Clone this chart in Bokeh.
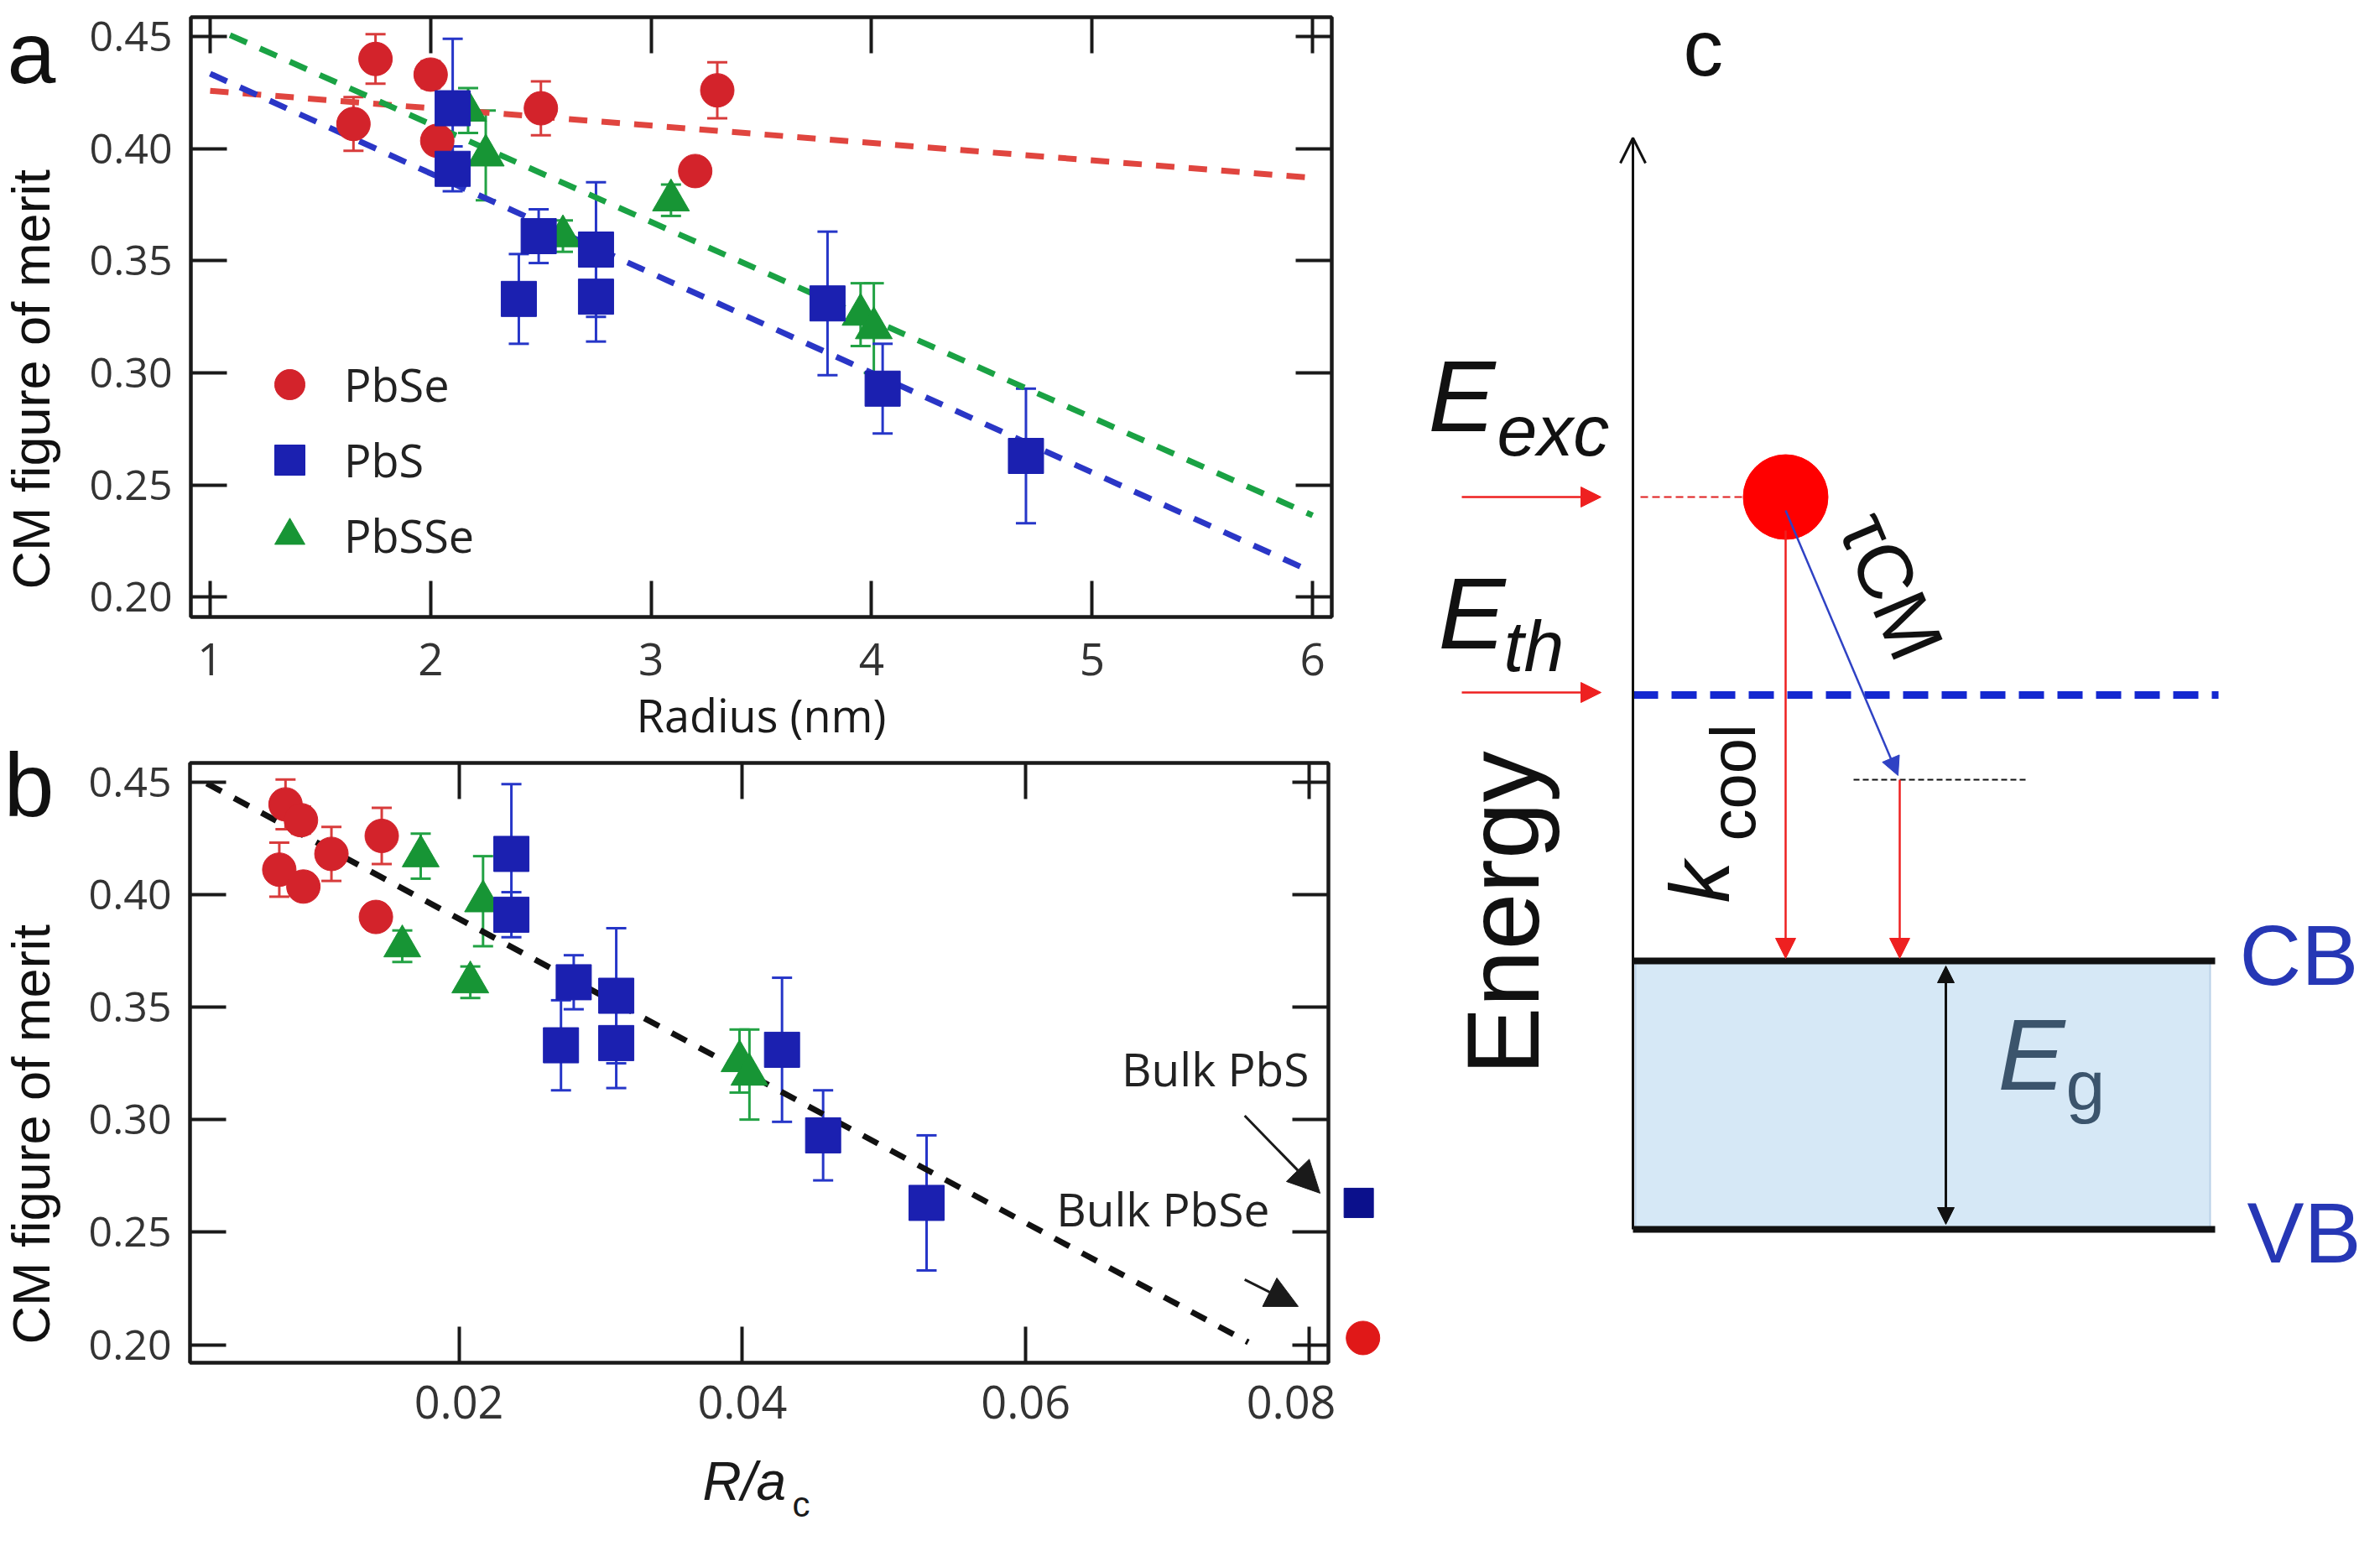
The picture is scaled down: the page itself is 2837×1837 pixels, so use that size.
import math
from bokeh.plotting import figure
from bokeh.models import (ColumnDataSource, Range1d, LinearAxis, FixedTicker, PrintfTickFormatter,
                          CustomJSTickFormatter, Whisker, TeeHead, Legend, LegendItem, Label,
                          Arrow, NormalHead, OpenHead)
from bokeh.layouts import row, column
from bokeh.embed import file_html
from bokeh.resources import INLINE

# ---------------- data ----------------
pbse_radius = [1.65, 1.75, 2.00, 2.03, 2.50, 3.30, 3.20]
pbse_ratio = [0.00732, 0.00776, 0.00885, 0.00902, 0.0110, 0.01455, 0.01414]
pbse_cm = [0.411, 0.440, 0.433, 0.4035, 0.418, 0.426, 0.390]
pbse_err = [0.012, 0.011, 0.006, 0.005, 0.012, 0.0125, 0.005]

pbs_radius = [2.10, 2.10, 2.40, 2.49, 2.75, 2.75, 3.80, 4.05, 4.70]
pbs_ratio = [0.0237, 0.0237, 0.0272, 0.0281, 0.0311, 0.0311, 0.0428, 0.0457, 0.0530]
pbs_cm = [0.418, 0.391, 0.333, 0.361, 0.355, 0.334, 0.331, 0.293, 0.263]
pbs_err = [0.031, 0.010, 0.020, 0.012, 0.030, 0.020, 0.032, 0.020, 0.030]

pbsse_radius = [2.17, 2.25, 2.60, 3.09, 3.95, 4.01]
pbsse_ratio = [0.0173, 0.0217, 0.0208, 0.0160, 0.0398, 0.0405]
pbsse_cm = [0.417, 0.397, 0.361, 0.377, 0.326, 0.320]
pbsse_err = [0.010, 0.020, 0.007, 0.007, 0.014, 0.020]

fit_radius = [1.0, 6.0]
fit_pbse = [0.4258, 0.3870]
fit_pbs = [0.4334, 0.2112]
fit_pbsse_radius = [1.09, 6.0]
fit_pbsse = [0.4506, 0.2365]

fit_ratio = [0.0022, 0.0757]
fit_all = [0.4493, 0.2011]

bulk_labels = ["Bulk PbS", "Bulk PbSe"]
bulk_ratio = [0.0835, 0.0838]
bulk_cm = [0.263, 0.203]

radius_ticks = [1, 2, 3, 4, 5, 6]
ratio_ticks = [0.02, 0.04, 0.06, 0.08]
cm_ticks = [0.20, 0.25, 0.30, 0.35, 0.40, 0.45]

# ---------------- style ----------------
RED, BLUE, GREEN = "#d3232b", "#1b20b0", "#179535"
RED_E, BLUE_E, GREEN_E = "#d83c3c", "#2636c8", "#22a244"
RED_L, BLUE_L, GREEN_L = "#e0453f", "#2a36c6", "#1aa244"
FRAME = "#1a1a1a"
TICKC = "#333333"
BLANK = CustomJSTickFormatter(code="return ''")


def base_axes(p, xticks, xfmt, xtick_size, xtick_standoff, xlabel=None, xlab_standoff=0):
    p.grid.visible = False
    p.outline_line_color = FRAME
    p.outline_line_width = 4
    for ax in (p.xaxis[0], p.yaxis[0]):
        ax.axis_line_width = 4
        ax.axis_line_color = FRAME
        ax.major_tick_line_width = 4
        ax.major_tick_line_color = FRAME
        ax.major_tick_in = 43
        ax.major_tick_out = 0
        ax.minor_tick_in = 0
        ax.minor_tick_out = 0
        ax.major_label_text_font = "Open Sans"
        ax.major_label_text_color = TICKC
    xa = p.xaxis[0]
    xa.ticker = FixedTicker(ticks=xticks)
    xa.formatter = PrintfTickFormatter(format=xfmt)
    xa.major_label_text_font_size = xtick_size
    xa.major_label_standoff = xtick_standoff
    if xlabel:
        xa.axis_label = xlabel
        xa.axis_label_text_font = "Open Sans"
        xa.axis_label_text_font_style = "normal"
        xa.axis_label_text_font_size = "54px"
        xa.axis_label_text_color = "#1a1a1a"
        xa.axis_label_standoff = xlab_standoff
    ya = p.yaxis[0]
    ya.ticker = FixedTicker(ticks=cm_ticks)
    ya.formatter = PrintfTickFormatter(format="%.2f")
    ya.major_label_text_font_size = "50px"
    ya.major_label_standoff = 22
    for side, ticks in (("above", xticks), ("right", cm_ticks)):
        ax = LinearAxis(ticker=FixedTicker(ticks=ticks), formatter=BLANK,
                        major_label_text_font_size="2px",
                        major_label_standoff=0, major_tick_in=43, major_tick_out=0,
                        minor_tick_in=0, minor_tick_out=0, axis_line_width=4,
                        axis_line_color=FRAME, major_tick_line_width=4,
                        major_tick_line_color=FRAME)
        p.add_layout(ax, side)


def series(p, xs, ys, errs, color, ecolor, marker, size):
    lower = [y - e for y, e in zip(ys, errs)]
    upper = [y + e for y, e in zip(ys, errs)]
    src = ColumnDataSource(dict(x=xs, y=ys, lower=lower, upper=upper))
    w = Whisker(base="x", lower="lower", upper="upper", source=src, dimension="height",
                line_color=ecolor, line_width=3,
                upper_head=TeeHead(size=24, line_color=ecolor, line_width=3),
                lower_head=TeeHead(size=24, line_color=ecolor, line_width=3))
    p.add_layout(w)
    return p.scatter("x", "y", source=src, marker=marker, size=size,
                     fill_color=color, line_color=color, line_width=1)


def canvas(x0, y0, w, h):
    """A bare figure whose data units are page pixels (y down)."""
    c = figure(width=w, height=h, output_backend="svg", toolbar_location=None,
               x_range=Range1d(x0, x0 + w), y_range=Range1d(y0 + h, y0),
               x_axis_location=None, y_axis_location=None,
               min_border_left=0, min_border_right=0, min_border_top=0, min_border_bottom=0,
               background_fill_color="white", border_fill_color="white")
    c.grid.visible = False
    c.outline_line_color = None
    return c


def lab(p, x, y, text, size, font="Liberation Sans", style="normal", color="#111111",
        angle=0.0, align="left", baseline="alphabetic"):
    p.add_layout(Label(x=x, y=y, text=text, text_font=font, text_font_size=size,
                       text_font_style=style, text_color=color, angle=angle,
                       text_align=align, text_baseline=baseline))


# ---------------- left strip: panel letters and y titles ----------------
strip_left = canvas(8, 8, 80, 1724)
lab(strip_left, 16, 70, "a", "104px")
lab(strip_left, 12, 943, "b", "108px")
lab(strip_left, 44, 710, "CM figure of merit", "63px", angle=math.pi / 2)
lab(strip_left, 44, 1610, "CM figure of merit", "63px", angle=math.pi / 2)

# ---------------- panel a ----------------
pa = figure(width=1520, height=896, output_backend="svg", toolbar_location=None,
            x_range=Range1d(0.9125, 6.087), y_range=Range1d(0.1912, 0.4586),
            min_border_left=147, min_border_right=13, min_border_top=20, min_border_bottom=161,
            background_fill_color="white", border_fill_color="white")
base_axes(pa, radius_ticks, "%d", "53px", 31, "Radius (nm)", 7)

pa.line(fit_radius, fit_pbse, line_color=RED_L, line_width=7, line_dash="22 17")
pa.line(fit_radius, fit_pbs, line_color=BLUE_L, line_width=7, line_dash="22 17")
pa.line(fit_pbsse_radius, fit_pbsse, line_color=GREEN_L, line_width=7, line_dash="22 17")

r_se = series(pa, pbse_radius, pbse_cm, pbse_err, RED, RED_E, "circle", 40)
r_sse = series(pa, pbsse_radius, pbsse_cm, pbsse_err, GREEN, GREEN_E, "triangle", 44)
r_s = series(pa, pbs_radius, pbs_cm, pbs_err, BLUE, BLUE_E, "square", 42)

leg = Legend(items=[LegendItem(label="PbSe", renderers=[r_se]),
                    LegendItem(label="PbS", renderers=[r_s]),
                    LegendItem(label="PbSSe", renderers=[r_sse])],
             location=(73, 52), orientation="vertical", glyph_width=90, glyph_height=90,
             label_standoff=20, spacing=0, padding=0, margin=0,
             border_line_color=None, background_fill_alpha=0,
             label_text_font="Open Sans", label_text_font_size="54px", label_text_color="#222222")
pa.add_layout(leg, "center")

# ---------------- panel b ----------------
XB0, XB1 = 0.00102, 0.08136
pb = figure(width=1512, height=828, output_backend="svg", toolbar_location=None,
            x_range=Range1d(XB0, XB1), y_range=Range1d(0.192, 0.4584),
            min_border_left=146, min_border_right=9, min_border_top=13, min_border_bottom=100,
            background_fill_color="white", border_fill_color="white")
base_axes(pb, ratio_ticks, "%.2f", "54px", 27)

pb.line(fit_ratio, fit_all, line_color="#111111", line_width=7, line_dash="20 17")
series(pb, pbse_ratio, pbse_cm, pbse_err, RED, RED_E, "circle", 40)
series(pb, pbsse_ratio, pbsse_cm, pbsse_err, GREEN, GREEN_E, "triangle", 44)
series(pb, pbs_ratio, pbs_cm, pbs_err, BLUE, BLUE_E, "square", 42)

for txt, xx, yy in ((bulk_labels[0], 0.06677, 0.3226), (bulk_labels[1], 0.06216, 0.2607)):
    lab(pb, xx, yy, txt, "55px", font="Open Sans", color="#222222")
for xs, ys, xe, ye in ((0.07545, 0.3017, 0.08077, 0.2673), (0.07545, 0.2289, 0.07923, 0.2170)):
    pb.add_layout(Arrow(x_start=xs, y_start=ys, x_end=xe, y_end=ye,
                        line_width=3, line_color="#1a1a1a",
                        end=NormalHead(size=38, fill_color="#1a1a1a", line_color="#1a1a1a")))

# bulk values sit just outside panel b's frame: continue its x scale in a narrow strip
ppu = (1512 - 146 - 9) / (XB1 - XB0)
bx0 = XB1 + 9 / ppu
pbulk = figure(width=60, height=828, output_backend="svg", toolbar_location=None,
               x_range=Range1d(bx0, bx0 + 60 / ppu), y_range=pb.y_range,
               x_axis_location=None, y_axis_location=None,
               min_border_left=0, min_border_right=0, min_border_top=13, min_border_bottom=100,
               background_fill_color="white", border_fill_color="white")
pbulk.grid.visible = False
pbulk.outline_line_color = None
pbulk.scatter([bulk_ratio[0]], [bulk_cm[0]], marker="square", size=35,
              fill_color="#0b108c", line_color="#0b108c")
pbulk.scatter([bulk_ratio[1]], [bulk_cm[1]], marker="circle", size=40,
              fill_color="#e01818", line_color="#e01818")

strip_x = canvas(8, 1732, 1652, 97)
lab(strip_x, 845, 1773, "R/a", "64px", style="italic", color="#1a1a1a")
lab(strip_x, 952, 1801, "c", "42px", color="#1a1a1a")

# ---------------- panel c (schematic, page-pixel coordinates) ----------------
pc = canvas(1660, 8, 1169, 1821)

axis_x, axis_top = 1954, 172
y_exc, y_th, y_cm, y_cb, y_vb = 600, 836, 937, 1153, 1473
band_right = 2648
x_cool, x_cm = 2136, 2272

pc.quad(left=axis_x + 3, right=band_right - 6, top=y_cb, bottom=y_vb,
        fill_color="#d6e8f6", line_color="#b9d1e8", line_width=2)
pc.line([axis_x, band_right], [y_cb, y_cb], line_color="#111111", line_width=8)
pc.line([axis_x, band_right], [y_vb, y_vb], line_color="#111111", line_width=8)
pc.line([axis_x, 2652], [y_th, y_th], line_color="#1428d0", line_width=9, line_dash="30 16")
pc.line([1963, 2088], [y_exc, y_exc], line_color="#e02020", line_width=2, line_dash="9 5")
pc.line([2217, 2423], [y_cm, y_cm], line_color="#111111", line_width=2, line_dash="7 4")
pc.scatter([x_cool], [y_exc], size=101, fill_color="#ff0000", line_color="#ff0000")

pc.add_layout(Arrow(x_start=axis_x, y_start=y_vb, x_end=axis_x, y_end=axis_top,
                    line_width=3, line_color="#111111",
                    end=OpenHead(size=30, line_width=3, line_color="#111111")))
for y0 in (y_exc, y_th - 3):
    pc.add_layout(Arrow(x_start=1750, y_start=y0, x_end=1916, y_end=y0, line_width=2.5,
                        line_color="#ee2020",
                        end=NormalHead(size=24, fill_color="#ee2020", line_color="#ee2020")))
for xx, y0 in ((x_cool, y_exc + 40), (x_cm, y_cm)):
    pc.add_layout(Arrow(x_start=xx, y_start=y0, x_end=xx, y_end=y_cb - 3, line_width=2.5,
                        line_color="#ee2020",
                        end=NormalHead(size=24, fill_color="#ee2020", line_color="#ee2020")))
pc.add_layout(Arrow(x_start=x_cool, y_start=616, x_end=x_cm - 2, y_end=y_cm - 5, line_width=2.5,
                    line_color="#2f42c4",
                    end=NormalHead(size=22, fill_color="#2f42c4", line_color="#2f42c4")))
pc.add_layout(Arrow(x_start=2327, y_start=y_cb + 6, x_end=2327, y_end=y_vb - 6, line_width=3,
                    line_color="#111111",
                    start=NormalHead(size=20, fill_color="#111111", line_color="#111111"),
                    end=NormalHead(size=20, fill_color="#111111", line_color="#111111")))

lab(pc, 2014, 64, "c", "95px")
lab(pc, 1710, 479, "E", "120px", style="italic")
lab(pc, 1792, 520, "exc", "86px", style="italic")
lab(pc, 1722, 738, "E", "120px", style="italic")
lab(pc, 1800, 777, "th", "86px", style="italic")
lab(pc, 1799, 1096, "Energy", "122px", angle=math.pi / 2, align="center")
lab(pc, 2033, 1084, "k", "100px", style="italic", angle=math.pi / 2)
lab(pc, 2073, 1010, "cool", "76px", angle=math.pi / 2)
lab(pc, 2262, 706, "τCM", "92px", angle=-math.radians(67), align="center", baseline="middle")
lab(pc, 2389, 1264, "E", "120px", style="italic", color="#3b546c")
lab(pc, 2470, 1301, "g", "84px", color="#3b546c")
lab(pc, 2677, 1146, "CB", "102px", color="#2637b5")
lab(pc, 2686, 1477, "VB", "102px", color="#2637b5")

left_block = column(row(strip_left, column(pa, row(pb, pbulk))), strip_x)
layout = row(left_block, pc)
open("out.html", "w").write(file_html(layout, INLINE))
